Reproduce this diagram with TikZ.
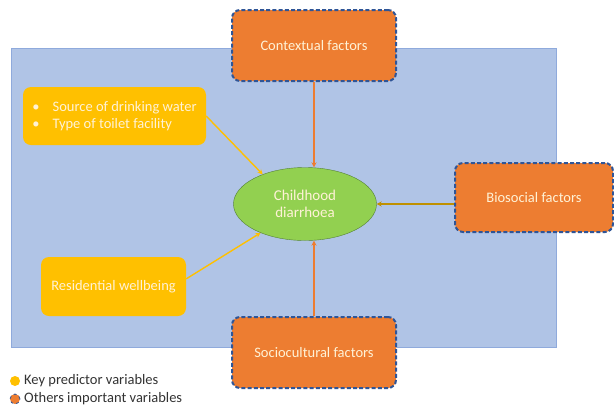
\documentclass[tikz,border=0pt]{standalone}
\usepackage{fontspec}
\setmainfont{Carlito}
\usetikzlibrary{arrows.meta,shapes.geometric}
\definecolor{panelblue}{RGB}{176,196,230}
\definecolor{panelline}{RGB}{143,170,220}
\definecolor{factororange}{RGB}{237,125,49}
\definecolor{factorline}{RGB}{47,85,151}
\definecolor{keyyellow}{RGB}{255,192,0}
\definecolor{outcomegreen}{RGB}{146,208,80}
\definecolor{outcomeline}{RGB}{84,130,53}
\definecolor{biobrown}{RGB}{191,144,0}
\definecolor{boxtext}{RGB}{255,242,214}

\begin{document}
\begin{tikzpicture}[x=1pt,y=-1pt]
\tikzstyle{factorbox}=[draw=factorline,fill=factororange,dash pattern=on 4pt off 2.2pt,line width=2pt,rounded corners=8pt,minimum width=164,minimum height=71,text=boxtext,font=\fontsize{14.5}{17}\selectfont]
\tikzstyle{keybox}=[fill=keyyellow,rounded corners=8pt,text=boxtext,font=\fontsize{14.5}{17}\selectfont]
\tikzstyle{outcome}=[ellipse,draw=outcomeline,fill=outcomegreen,minimum width=143,minimum height=73,text=boxtext,align=center,font=\fontsize{15}{17}\selectfont]
\tikzstyle{link}=[line width=1.4pt,-{Stealth[length=5pt,width=5pt]}]
\tikzstyle{legendtext}=[anchor=west,inner sep=0pt,text=black!80,font=\fontsize{14.5}{17}\selectfont]
\useasboundingbox (0,0) rectangle (614,408);
\fill[white] (0,0) rectangle (614,408);
\draw[panelline,fill=panelblue] (11,48) rectangle (556,347);

\node [outcome] at (305,204) (child) {Childhood\\diarrhoea};
\node [factorbox] at (314,45.5) (ctx) {Contextual factors};
\node [factorbox] at (314,352.5) (socio) {Sociocultural factors};
\node [factorbox,minimum width=158,minimum height=69] at (534,197.5) (bio) {Biosocial factors};
\node [keybox,minimum width=183,minimum height=58,align=left] at (114.5,116) (water) {\textbullet\hspace{0.9em}Source of drinking water\\\textbullet\hspace{0.9em}Type of toilet facility};
\node [keybox,minimum width=145,minimum height=59] at (113.5,286.5) (resid) {Residential wellbeing};

\draw [link,factororange] (ctx.south) -- (ctx.south |- child.north);
\draw [link,factororange] (socio.north) -- (socio.north |- child.south);
\draw [link,biobrown] (bio.west |- child.east) -- (child.east);
\draw [link,keyyellow] (water.east) -- (child.145);
\draw [link,keyyellow] (resid.6) -- (child.213);

\node [circle,fill=keyyellow,inner sep=0pt,minimum size=10pt] at (15,381) (keydot) {};
\node [circle,fill=factororange,draw=factorline,dashed,line width=0.8pt,inner sep=0pt,minimum size=10pt] at (15,399) (otherdot) {};
\node [legendtext] at (24,381) (keylabel) {Key predictor variables};
\node [legendtext] at (24,399) (otherlabel) {Others important variables};
\end{tikzpicture}
\end{document}
